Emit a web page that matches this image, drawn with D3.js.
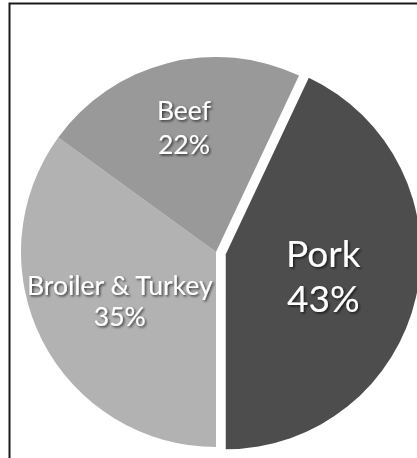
<!DOCTYPE html>
<html>
<head>
<meta charset="utf-8">
<script src="https://cdn.jsdelivr.net/npm/d3@7"></script>
<style>
  html, body { margin: 0; padding: 0; background: #fff; overflow: hidden; }
  svg { display: block; }
  .lbl { font-family: "Lato", "Open Sans", sans-serif; fill: #fff; }
</style>
</head>
<body>
<svg id="chart" width="417" height="458"></svg>
<script>
// Meat consumption shares
const categories = ["Pork", "Broiler & Turkey", "Beef"];
const shares = [43, 35, 22];
const percentLabels = ["43%", "35%", "22%"];

const colors = ["#4d4d4d", "#b2b2b2", "#999999"];
const exploded = [10, 0, 0];          // slice offset from centre, px
const labelRadius = [100, 108, 129];  // label distance from slice centre, px
const fontSizes = [37, 26.5, 26.5];
const lineGap = [1.2, 1.18, 1.28];

const width = 417, height = 458;
const cx = 216, cy = 252, radius = 195;

const svg = d3.select("#chart");

const defs = svg.append("defs");
const f = defs.append("filter").attr("id", "shadow")
  .attr("x", "-20%").attr("y", "-20%").attr("width", "140%").attr("height", "140%");
f.append("feDropShadow")
  .attr("dx", 1.5).attr("dy", 1.5).attr("stdDeviation", 1)
  .attr("flood-color", "#000").attr("flood-opacity", 0.65);

// outer frame
svg.append("rect")
  .attr("x", 9.5).attr("y", 3.5)
  .attr("width", 430).attr("height", 480)
  .attr("fill", "none").attr("stroke", "#1a1a1a").attr("stroke-width", 2);

const pie = d3.pie()
  .sort(null)
  .value(d => d)
  .startAngle(Math.PI * 2 * 0.07)
  .endAngle(Math.PI * 2 * 1.07);

const arcs = pie(shares);
const arc = d3.arc().innerRadius(0).outerRadius(radius);

const g = svg.append("g").attr("transform", `translate(${cx},${cy})`);

const slices = g.selectAll("g.slice")
  .data(arcs)
  .join("g")
  .attr("class", "slice")
  .attr("transform", (d, i) => {
    const mid = (d.startAngle + d.endAngle) / 2;
    return `translate(${Math.sin(mid) * exploded[i]},${-Math.cos(mid) * exploded[i]})`;
  });

slices.append("path")
  .attr("d", arc)
  .attr("fill", (d, i) => colors[i]);

slices.each(function(d, i) {
  const mid = (d.startAngle + d.endAngle) / 2;
  const r = labelRadius[i];
  const x = Math.sin(mid) * r, y = -Math.cos(mid) * r;
  const fs = fontSizes[i];
  const lh = fs * lineGap[i];
  const t = d3.select(this).append("text")
    .attr("class", "lbl")
    .attr("text-anchor", "middle")
    .attr("font-size", fs)
    .attr("filter", "url(#shadow)");
  t.append("tspan").attr("x", x).attr("y", y - lh / 2 + fs * 0.36).text(categories[i]);
  t.append("tspan").attr("x", x).attr("y", y + lh / 2 + fs * 0.36).text(percentLabels[i]);
});
</script>
</body>
</html>
